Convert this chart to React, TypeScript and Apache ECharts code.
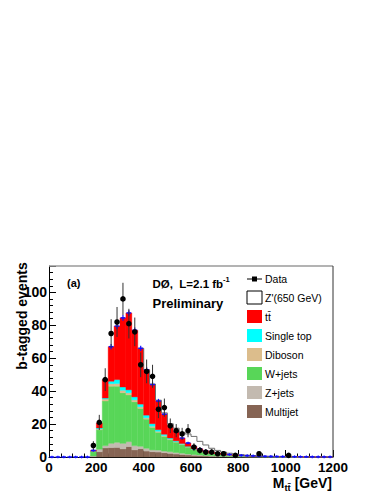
import React, { useEffect, useRef } from 'react';
import * as echarts from 'echarts';

// Bin lower edges (GeV), bin width 25 GeV
const binLow = [0, 25, 50, 75, 100, 125, 150, 175, 200, 225, 250, 275, 300, 325, 350, 375, 400, 425, 450, 475, 500, 525, 550, 575, 600, 625, 650, 675, 700, 725, 750, 775, 800, 825, 850, 875, 900, 925, 950, 975, 1000, 1025, 1050, 1075, 1100, 1125, 1150, 1175];
const BIN_W = 25;

const multijet = [0, 0, 0, 0, 0, 0, 0, 0.4, 3.2, 5.5, 5.7, 5.8, 4.9, 6.3, 4.3, 5.0, 3.6, 3.2, 3.0, 2.6, 2.2, 1.8, 1.5, 1.2, 1.0, 0.8, 0.6, 0.5, 0.4, 0.3, 0.25, 0.2, 0.15, 0.12, 0.1, 0.08, 0.06, 0.05, 0.04, 0.03, 0.03, 0.02, 0.02, 0.02, 0.01, 0.01, 0.01, 0.01];
const zjets = [0, 0, 0, 0, 0, 0, 0, 0.2, 1.5, 1.4, 2.6, 3.1, 3.4, 3.0, 2.6, 1.5, 1.7, 1.1, 1.2, 1.0, 1.0, 0.9, 0.8, 0.6, 0.5, 0.4, 0.3, 0.25, 0.2, 0.15, 0.12, 0.1, 0.08, 0.06, 0.05, 0.04, 0.03, 0.03, 0.02, 0.02, 0.02, 0.01, 0.01, 0.01, 0.01, 0.01, 0.01, 0.01];
const wjets = [0, 0, 0, 0, 0, 0, 0, 2.6, 11.8, 27.1, 34.7, 34.1, 30.7, 28.4, 26.6, 23.0, 17.7, 13.7, 10.8, 8.9, 7.3, 6.3, 5.2, 4.2, 3.0, 2.3, 1.7, 1.25, 1.0, 0.85, 0.63, 0.5, 0.42, 0.32, 0.25, 0.2, 0.16, 0.14, 0.12, 0.1, 0.07, 0.07, 0.06, 0.05, 0.05, 0.04, 0.03, 0.03];
const diboson = [0, 0, 0, 0, 0, 0, 0, 0.1, 0.5, 1.2, 1.5, 1.6, 1.5, 1.3, 1.2, 1.0, 0.8, 0.7, 0.6, 0.5, 0.4, 0.3, 0.3, 0.2, 0.2, 0.15, 0.1, 0.1, 0.08, 0.06, 0.05, 0.04, 0.03, 0.03, 0.02, 0.02, 0.02, 0.01, 0.01, 0.01, 0.01, 0.01, 0.01, 0, 0, 0, 0, 0];
const singleTop = [0, 0, 0, 0, 0, 0, 0, 0.2, 0.6, 0.6, 1.5, 2.4, 2.0, 1.8, 1.8, 1.6, 1.6, 1.5, 1.0, 0.8, 0.6, 0.5, 0.4, 0.3, 0.3, 0.2, 0.15, 0.1, 0.08, 0.06, 0.05, 0.04, 0.03, 0.03, 0.02, 0.02, 0.02, 0.01, 0.01, 0.01, 0.01, 0.01, 0, 0, 0, 0, 0, 0];
const ttbar = [0, 0, 0, 0, 0, 0, 0, 0.5, 3.0, 11.2, 21, 32.5, 42, 46.7, 40.5, 33.9, 27.6, 23.8, 17.4, 12.2, 7.5, 5.7, 3.3, 2.0, 1.5, 1.15, 0.95, 0.8, 0.64, 0.48, 0.4, 0.32, 0.29, 0.24, 0.21, 0.14, 0.11, 0.11, 0.1, 0.08, 0.06, 0.06, 0.05, 0.04, 0.03, 0.02, 0.02, 0.01];
const zprime = [0, 0, 0, 0, 0, 0, 0, 0, 0, 0, 0, 0, 0, 0, 0, 0, 0, 0.3, 0.5, 0.8, 1.2, 2.0, 3.5, 5.5, 6.0, 4.5, 3.5, 2.3, 1.6, 1.1, 0.8, 0.6, 0.4, 0.3, 0.2, 0.1, 0, 0, 0, 0, 0, 0, 0, 0, 0, 0, 0, 0];
const mcErr = [0.8, 0.8, 0.8, 0.8, 0.8, 0.8, 0.8, 0.8, 1.2, 1.5, 1.6, 1.7, 1.7, 1.7, 1.6, 1.6, 1.5, 1.4, 1.3, 1.2, 1.1, 1.0, 0.9, 0.8, 0.8, 0.8, 0.8, 0.8, 0.8, 0.8, 0.8, 0.8, 0.8, 0.8, 0.8, 0.8, 0.8, 0.8, 0.8, 0.8, 0.8, 0.8, 0.8, 0.8, 0.8, 0.8, 0.8, 0.8];
const dataCounts = [0, 0, 0, 0, 0, 0, 0, 7, 21, 47, 75, 82, 96, 81, 76, 56, 52, 49, 29, 30, 19, 16, 14, 16, 6, 4, 3, 3, 2, 2, 0, 1, 0, 0, 0, 2, 0, 0, 0, 0, 1, 0, 0, 0, 0, 0, 0, 0];
const dataErr = [0, 0, 0, 0, 0, 0, 0, 2.6, 4.6, 6.9, 8.7, 9.1, 9.8, 9.0, 8.7, 7.5, 7.2, 7.0, 5.4, 5.5, 4.4, 4.0, 3.7, 4.0, 2.4, 2.0, 1.7, 1.7, 1.4, 1.4, 0, 1.0, 0, 0, 0, 1.4, 0, 0, 0, 0, 1.0, 0, 0, 0, 0, 0, 0, 0];

const yTicks = [0, 20, 40, 60, 80, 100];

const legendLabels = ['Data', "Z'(650 GeV)", 't\u0074\u0304', 'Single top', 'Diboson', 'W+jets', 'Z+jets', 'Multijet'];

const COLORS = {
  multijet: '#866454',
  zjets: '#c3bab0',
  wjets: '#58d658',
  diboson: '#dcbd8c',
  singleTop: '#00ffff',
  ttbar: '#ff0000',
};

const FONT = '"Liberation Sans", Arial, Helvetica, sans-serif';

const layers = [
  { name: 'Multijet', values: multijet, color: COLORS.multijet },
  { name: 'Z+jets', values: zjets, color: COLORS.zjets },
  { name: 'W+jets', values: wjets, color: COLORS.wjets },
  { name: 'Diboson', values: diboson, color: COLORS.diboson },
  { name: 'Single top', values: singleTop, color: COLORS.singleTop },
  { name: 'ttbar', values: ttbar, color: COLORS.ttbar },
];

export default function App() {
  const ref = useRef<HTMLDivElement>(null);

  useEffect(() => {
    if (!ref.current) return;
    const chart = echarts.init(ref.current, undefined, { renderer: 'svg' });

    const cum = binLow.map(() => 0);
    const stackSeries: any[] = layers.map((layer) => {
      const data = binLow.map((x0, i) => {
        const y0 = cum[i];
        const y1 = y0 + layer.values[i];
        cum[i] = y1;
        return [x0, x0 + BIN_W, y0, y1];
      });
      return {
        type: 'custom',
        name: layer.name,
        data,
        encode: { x: [0, 1], y: [2, 3] },
        renderItem: (params: any, api: any) => {
          const x0 = api.value(0), x1 = api.value(1), y0 = api.value(2), y1 = api.value(3);
          if (y1 - y0 <= 0) return null;
          const p0 = api.coord([x0, y1]);
          const p1 = api.coord([x1, y0]);
          return {
            type: 'rect',
            shape: { x: p0[0], y: p0[1], width: p1[0] - p0[0], height: p1[1] - p0[1] },
            style: { fill: layer.color, stroke: layer.color, lineWidth: 0.4 },
          };
        },
        z: 2,
      };
    });
    const total = cum.slice();

    const zpSeries = {
      type: 'custom',
      name: 'Zprime',
      data: [[0, 0]],
      encode: { x: 0, y: 1 },
      renderItem: (params: any, api: any) => {
        const pts: number[][] = [];
        for (let i = 15; i <= 37; i++) {
          const top = total[i] + zprime[i];
          pts.push(api.coord([binLow[i], top]));
          pts.push(api.coord([binLow[i] + BIN_W, top]));
        }
        return {
          type: 'polyline',
          shape: { points: pts },
          style: { stroke: '#6e6e6e', lineWidth: 1, fill: null },
        };
      },
      z: 3,
    };

    const blueSeries = {
      type: 'custom',
      name: 'SM',
      data: binLow.map((x0, i) => [x0, x0 + BIN_W, total[i], mcErr[i]]),
      encode: { x: [0, 1], y: 2 },
      renderItem: (params: any, api: any) => {
        const x0 = api.value(0), x1 = api.value(1), y = api.value(2), e = api.value(3);
        const a = api.coord([x0, y]);
        const b = api.coord([x1, y]);
        const c = api.coord([(x0 + x1) / 2, y + e]);
        const d = api.coord([(x0 + x1) / 2, y - e]);
        return {
          type: 'group',
          children: [
            { type: 'line', shape: { x1: a[0] + 0.6, y1: a[1], x2: b[0] - 0.6, y2: b[1] }, style: { stroke: '#1010ff', lineWidth: 1.5 } },
            { type: 'line', shape: { x1: c[0], y1: c[1], x2: d[0], y2: d[1] }, style: { stroke: '#1010ff', lineWidth: 1.2 } },
          ],
        };
      },
      z: 4,
    };

    const dataSeries = {
      type: 'custom',
      name: 'Data',
      data: binLow
        .map((x0, i) => [x0 + BIN_W / 2, dataCounts[i], dataErr[i]])
        .filter((d) => d[1] > 0),
      encode: { x: 0, y: 1 },
      renderItem: (params: any, api: any) => {
        const x = api.value(0), y = api.value(1), e = api.value(2);
        const p = api.coord([x, y]);
        const t = api.coord([x, y + e]);
        const b = api.coord([x, Math.max(0, y - e)]);
        return {
          type: 'group',
          children: [
            { type: 'line', shape: { x1: t[0], y1: t[1], x2: b[0], y2: b[1] }, style: { stroke: '#333', lineWidth: 1 } },
            { type: 'circle', shape: { cx: p[0], cy: p[1], r: 2.8 }, style: { fill: '#000' } },
          ],
        };
      },
      z: 5,
    };

    // Legend graphic elements
    const rowY = [279, 297.5, 316.5, 335.5, 354.5, 373.5, 392.5, 411.5];
    const swX = 247, swW = 15, swH = 13, txtX = 265;
    const legendEls: any[] = [];
    const swatchColors = [null, '#ffffff', COLORS.ttbar, COLORS.singleTop, COLORS.diboson, COLORS.wjets, COLORS.zjets, COLORS.multijet];
    legendLabels.forEach((label, i) => {
      const y = rowY[i];
      if (i === 0) {
        legendEls.push({ type: 'line', shape: { x1: swX, y1: y, x2: swX + swW, y2: y }, style: { stroke: '#000', lineWidth: 1 }, z: 10 });
        legendEls.push({ type: 'rect', shape: { x: swX + swW / 2 - 2.5, y: y - 2.5, width: 5, height: 5 }, style: { fill: '#000' }, z: 10 });
      } else {
        legendEls.push({
          type: 'rect',
          shape: { x: swX, y: y - swH / 2, width: swW, height: swH },
          style: { fill: swatchColors[i], stroke: i === 1 ? '#000' : null, lineWidth: 1 },
          z: 10,
        });
      }
      legendEls.push({
        type: 'text',
        x: txtX,
        y: y,
        style: { text: label, font: `10.5px ${FONT}`, fill: '#000', align: 'left', verticalAlign: 'middle', textAlign: 'left', textVerticalAlign: 'middle' },
        z: 10,
      });
    });

    const option: any = {
      animation: false,
      grid: { left: 49, top: 266, width: 284, height: 191, show: false },
      xAxis: {
        type: 'value',
        min: 0,
        max: 1200,
        interval: 200,
        axisLine: { show: true, onZero: false, lineStyle: { color: '#000', width: 1 } },
        axisTick: { show: true, inside: true, length: 7, lineStyle: { color: '#000', width: 1 } },
        minorTick: { show: true, splitNumber: 4, length: 3.5, lineStyle: { color: '#000', width: 1 } },
        splitLine: { show: false },
        axisLabel: {
          fontFamily: FONT,
          fontWeight: 'bold',
          fontSize: 13.5,
          color: '#000',
          margin: 3,
          formatter: (v: number) => String(v),
        },
      },
      yAxis: {
        type: 'value',
        min: 0,
        max: 116,
        interval: 20,
        axisLine: { show: true, onZero: false, lineStyle: { color: '#000', width: 1 } },
        axisTick: { show: true, inside: true, length: 7, lineStyle: { color: '#000', width: 1 } },
        minorTick: { show: true, splitNumber: 5, length: 4, lineStyle: { color: '#000', width: 1 } },
        splitLine: { show: false },
        axisLabel: {
          fontFamily: FONT,
          fontWeight: 'bold',
          fontSize: 14,
          color: '#000',
          margin: 2,
          showMaxLabel: false,
          formatter: (v: number) => (yTicks.indexOf(v) >= 0 ? String(v) : ''),
        },
      },
      series: [...stackSeries, zpSeries, blueSeries, dataSeries],
      graphic: [
        // frame top & right
        { type: 'line', shape: { x1: 49, y1: 266, x2: 333, y2: 266 }, style: { stroke: '#9a9a9a', lineWidth: 1.5 }, z: 10 },
        { type: 'line', shape: { x1: 333, y1: 266, x2: 333, y2: 457 }, style: { stroke: '#333', lineWidth: 1 }, z: 10 },
        {
          type: 'text', x: 67, y: 282.5,
          style: { text: '(a)', font: `bold 11px ${FONT}`, fill: '#000', align: 'left', verticalAlign: 'middle', textAlign: 'left', textVerticalAlign: 'middle' },
          z: 10,
        },
        {
          type: 'text', x: 152.5, y: 282.5,
          style: {
            text: '{a|D\u00d8,  L=2.1 fb}{s|-1}',
            rich: {
              a: { font: `bold 11.5px ${FONT}`, fill: '#000', lineHeight: 14, verticalAlign: 'bottom' },
              s: { font: `bold 7.5px ${FONT}`, fill: '#000', lineHeight: 14, verticalAlign: 'top' },
            },
            align: 'left', verticalAlign: 'middle', textAlign: 'left', textVerticalAlign: 'middle',
          },
          z: 10,
        },
        {
          type: 'text', x: 152.5, y: 303,
          style: { text: 'Preliminary', font: `bold 13px ${FONT}`, fill: '#000', align: 'left', verticalAlign: 'middle', textAlign: 'left', textVerticalAlign: 'middle' },
          z: 10,
        },
        {
          type: 'text', x: 22, y: 316, rotation: Math.PI / 2,
          style: { text: 'b-tagged events', font: `bold 14px ${FONT}`, fill: '#000', align: 'center', verticalAlign: 'middle', textAlign: 'center', textVerticalAlign: 'middle' },
          z: 10,
        },
        {
          type: 'text', x: 332, y: 484,
          style: {
            text: '{m|M}{s|t\u0074\u0304}{m| [GeV]}',
            rich: {
              m: { font: `bold 14px ${FONT}`, fill: '#000', lineHeight: 16, verticalAlign: 'top' },
              s: { font: `bold 9.5px ${FONT}`, fill: '#000', lineHeight: 16, verticalAlign: 'bottom' },
            },
            align: 'right', verticalAlign: 'middle', textAlign: 'right', textVerticalAlign: 'middle',
          },
          z: 10,
        },
        ...legendEls,
      ],
    };

    chart.setOption(option);
    return () => chart.dispose();
  }, []);

  return <div ref={ref} style={{ position: 'absolute', left: 0, top: 0, width: 382, height: 494 }} />;
}
